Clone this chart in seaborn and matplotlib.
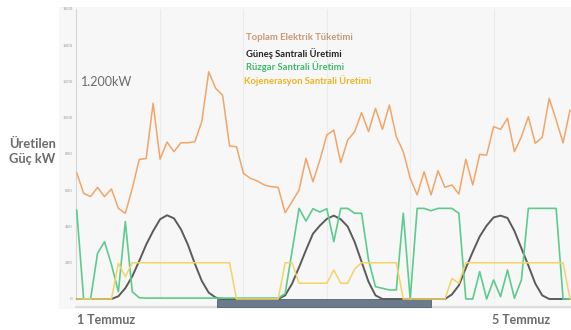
import matplotlib
matplotlib.use("Agg")
import matplotlib.pyplot as plt
import matplotlib.transforms as mtransforms
from matplotlib.patches import Rectangle
from matplotlib.lines import Line2D
import pandas as pd
import seaborn as sns

# Hourly values over three days (kW)
hours = list(range(72))
consumption = [697, 583, 565, 616, 565, 607, 500, 473, 610, 770,
               775, 1080, 771, 866, 813, 862, 862, 868, 978, 1254,
               1162, 1125, 844, 840, 693, 666, 651, 629, 620, 616,
               476, 537, 601, 776, 647, 767, 905, 932, 752, 877,
               923, 1028, 923, 1052, 936, 1070, 895, 813, 666, 574,
               702, 574, 708, 616, 629, 579, 771, 629, 798, 794,
               951, 936, 997, 813, 895, 1006, 859, 892, 1107, 988,
               862, 1043]
solar = [0, 0, 0, 0, 0, 0, 15, 60, 125, 210,
         300, 375, 440, 462, 445, 385, 300, 195, 100, 35,
         8, 0, 0, 0, 0, 0, 0, 0, 0, 0,
         20, 85, 175, 270, 360, 405, 442, 460, 440, 400,
         315, 205, 95, 20, 0, 0, 0, 0, 0, 0,
         0, 0, 0, 0, 25, 75, 170, 260, 345, 405,
         450, 460, 447, 375, 280, 185, 85, 20, 0, 0,
         0, 0]
wind = [491, 0, 0, 252, 316, 190, 40, 427, 40, 7,
        5, 5, 5, 5, 5, 5, 5, 5, 5, 5,
        5, 5, 5, 5, 5, 5, 5, 5, 5, 5,
        30, 265, 500, 430, 498, 480, 498, 316, 500, 500,
        473, 473, 215, 68, 59, 50, 50, 473, 0, 500,
        500, 487, 500, 500, 500, 473, 0, 0, 151, 0,
        105, 13, 160, 4, 105, 500, 500, 500, 500, 500,
        0, 0]
chp = [0, 0, 0, 0, 0, 0, 197, 123, 200, 200,
       200, 200, 200, 200, 200, 200, 200, 200, 200, 200,
       200, 200, 200, 0, 0, 0, 0, 0, 0, 0,
       200, 200, 87, 87, 87, 87, 87, 160, 87, 87,
       165, 200, 200, 200, 200, 200, 200, 0, 0, 0,
       0, 0, 0, 0, 114, 87, 200, 200, 200, 200,
       200, 200, 200, 200, 200, 200, 200, 200, 200, 200,
       200, 0]

series_names = ["Toplam Elektrik Tüketimi", "Güneş Santrali Üretimi",
                "Rüzgar Santrali Üretimi", "Kojenerasyon Santrali Üretimi"]
y_ticks = [0, 200, 400, 600, 800, 1000, 1200, 1400, 1600]
y_tick_labels = ["0", "200", "400", "600", "800", "1000", "1200", "1400", "1600"]
x_grid_hours = [12, 24, 36, 48, 60]
selected_range = (20.2, 51.0)
date_labels = ["1 Temmuz", "5 Temmuz"]
level_label = "1.200kW"
y_title = "Üretilen\nGüç kW"

sns.set_theme(style="white")
plt.rcParams["font.family"] = ["Lato", "DejaVu Sans"]

colors = {
    series_names[0]: "#F2A567",
    series_names[1]: "#5b5b5b",
    series_names[2]: "#5CCB8D",
    series_names[3]: "#F6D365",
}
text_colors = ["#C99873", "#222222", "#3FBA6C", "#EFB321"]
widths = {series_names[0]: 1.1, series_names[1]: 1.4,
          series_names[2]: 1.2, series_names[3]: 1.1}

df = pd.DataFrame({
    "hour": hours * 4,
    "value": consumption + solar + wind + chp,
    "series": [n for n, s in zip(series_names, [consumption, solar, wind, chp]) for _ in s],
})

W, H = 571, 330
fig = plt.figure(figsize=(W / 100, H / 100), dpi=100)
fig.patch.set_facecolor("white")

# light panel behind the chart area
fig.patches.append(Rectangle((59 / W, 1 - 309 / H), (W - 59) / W, (309 - 7) / H,
                             transform=fig.transFigure, facecolor="#f7f7f7",
                             edgecolor="none", zorder=-5))

ax = fig.add_axes([76 / W, 1 - 299 / H, (W - 76) / W, 290 / H])
ax.set_facecolor("none")
ax.set_zorder(2)

# solar at the back, consumption on top
draw_order = [series_names[1], series_names[2], series_names[3], series_names[0]]
for z, name in enumerate(draw_order):
    sns.lineplot(data=df[df["series"] == name], x="hour", y="value",
                 color=colors[name], linewidth=widths[name], ax=ax,
                 legend=False, zorder=3 + z, clip_on=False)

ax.set_xlim(-0.1, 71.14)
ax.set_ylim(0, 1600)
ax.set_xlabel("")
ax.set_ylabel("")
ax.set_xticks(x_grid_hours)
ax.set_xticklabels([])
ax.xaxis.grid(True, color="#ebebeb", linewidth=0.8)
ax.yaxis.grid(False)
ax.set_yticks(y_ticks)
ax.set_yticklabels(y_tick_labels, fontsize=3, color="#9a9a9a", family="DejaVu Sans")
ax.tick_params(axis="both", length=0, pad=2.5)
for side in ["top", "right", "bottom"]:
    ax.spines[side].set_visible(False)
ax.spines["left"].set_color("#d5d5d5")
ax.spines["left"].set_linewidth(0.8)

# range selector under the time axis
trans = mtransforms.blended_transform_factory(ax.transData, ax.transAxes)
ax.add_line(Line2D([0, 1], [-0.028, -0.028], transform=ax.transAxes,
                   color="#dcdcdc", linewidth=1.6, clip_on=False, zorder=1))
ax.add_patch(Rectangle((selected_range[0], -0.026), selected_range[1] - selected_range[0], 0.026,
                       transform=trans, facecolor="#6c7b8b", edgecolor="#55606c",
                       linewidth=0.6, clip_on=False, zorder=2))

# labels
fig.text(80.5 / W, 1 - 82 / H, level_label, fontsize=9, color="#6b6b6b",
         ha="left", va="center")
fig.text(9 / W, 1 - 151 / H, y_title, fontsize=9.3, fontweight="bold",
         color="#6b6b6b", ha="left", va="center", linespacing=1.3)
legend_y = [37.5, 53.5, 67, 81]
legend_x = [246.5, 245.5, 245.5, 244.5]
for name, c, lx, ly in zip(series_names, text_colors, legend_x, legend_y):
    fig.text(lx / W, 1 - ly / H, name, fontsize=6.8, fontweight="bold",
             color=c, ha="left", va="center")
fig.text(77 / W, 1 - 320 / H, date_labels[0], fontsize=9, fontweight="bold",
         color="#6b6b6b", ha="left", va="center")
fig.text(492 / W, 1 - 320 / H, date_labels[1], fontsize=9, fontweight="bold",
         color="#6b6b6b", ha="left", va="center")

fig.savefig("out.png", dpi=100)
